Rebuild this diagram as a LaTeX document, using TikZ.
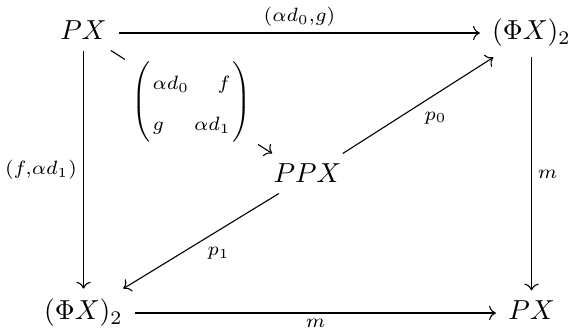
\documentclass[tikz,border=0pt]{standalone}
\usepackage{amsmath}
\usetikzlibrary{cd}
\newcommand{\mxstretch}{\renewcommand{\arraystretch}{1.25}}
\begin{document}
\begin{tikzpicture}[x=0.3636pt,y=-0.3636pt,
  cell/.style={shape=asymmetrical rectangle, inner xsep=1ex, inner ysep=0.85ex},
  arr/.style={draw, line width=0.4pt, -{cm to}},
  lbl/.style={auto, font=\everymath\expandafter{\the\everymath\scriptstyle}, inner sep=0.5ex},
  desc/.style={lbl, fill=white, anchor=center},
]
\useasboundingbox (0,0) rectangle (571,333);
\node[cell] (A) at (83.5,33) {$PX$};
\node[cell] (B) at (531.5,33) {$(\Phi X)_2$};
\node[cell] (C) at (307.5,176) {$PPX$};
\node[cell] (D) at (83.5,313) {$(\Phi X)_2$};
\node[cell] (E) at (531.5,313) {$PX$};
\path[arr] (A) -- node[lbl] {$(\alpha d_0,g)$} (B);
\path[arr] (A) -- node[lbl,swap] {$(f,\alpha d_1)$} (D);
\path[arr] (B) -- node[lbl] {$m$} (E);
\path[arr] (D) -- node[lbl,swap] {$m$} (E);
\path[arr] (A) -- node[desc] {\mxstretch$\left(\begin{array}{@{\hspace{0.8pt}}l@{\hspace{1.8pt}}r@{\hspace{0.8pt}}}\alpha d_0 & f\\ g & \alpha d_1\end{array}\right)$} (C);
\path[arr] (C) -- node[lbl,swap] {$p_0$} (B);
\path[arr] (C) -- node[lbl] {$p_1$} (D);
\end{tikzpicture}
\end{document}
